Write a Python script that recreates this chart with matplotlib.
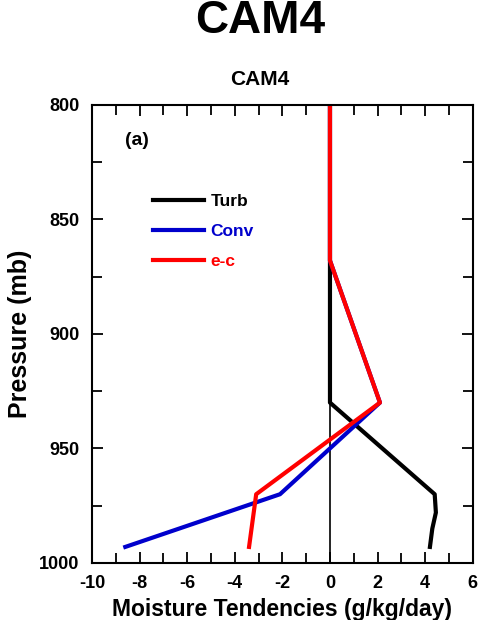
import matplotlib
matplotlib.use('Agg')
import matplotlib.pyplot as plt
from matplotlib.ticker import MultipleLocator

plt.rcParams['font.family'] = ['Liberation Sans', 'DejaVu Sans']
plt.rcParams['axes.unicode_minus'] = False

# profiles (tendency in g/kg/day vs pressure in mb)
turb_x = [0, 0, 4.4, 4.45, 4.3, 4.2]
turb_p = [800, 930, 970, 978, 985, 993]

conv_x = [0, 0, 2.1, 0, -2.1, -8.6]
conv_p = [800, 868, 930, 950, 970, 993]

ec_x = [0, 0, 2.1, -3.1, -3.4]
ec_p = [800, 868, 930, 970, 993]

series = [("Turb", turb_x, turb_p, "black"),
          ("Conv", conv_x, conv_p, "#0000cc"),
          ("e-c", ec_x, ec_p, "red")]

fig = plt.figure(figsize=(4.79, 6.20), dpi=100)
fig.text(0.543, 0.966, "CAM4", fontsize=33, fontweight='bold', ha='center', va='center')
fig.text(0.543, 0.871, "CAM4", fontsize=15, fontweight='bold', ha='center', va='center')
ax = fig.add_axes([0.192, 0.092, 0.795, 0.739])

ax.axvline(0, color='black', linewidth=1.2, zorder=1)
for name, xs, ps, col in series:
    ax.plot(xs, ps, color=col, linewidth=3, label=name, zorder=2)

ax.set_xlim(-10, 6)
ax.set_ylim(1000, 800)
ax.xaxis.set_major_locator(MultipleLocator(2))
ax.xaxis.set_minor_locator(MultipleLocator(1))
ax.yaxis.set_major_locator(MultipleLocator(50))
ax.yaxis.set_minor_locator(MultipleLocator(25))
ax.tick_params(which='both', direction='in', top=True, right=True, width=1.3)
ax.tick_params(which='major', length=8, labelsize=13, pad=9)
ax.tick_params(which='minor', length=7)
for lab in ax.get_xticklabels() + ax.get_yticklabels():
    lab.set_fontweight('bold')
for sp in ax.spines.values():
    sp.set_linewidth(1.5)

ax.set_xlabel("Moisture Tendencies (g/kg/day)", fontsize=16.5, fontweight='bold', labelpad=4)
ax.set_ylabel("Pressure (mb)", fontsize=18, fontweight='bold', labelpad=5)
ax.text(0.088, 0.921, "(a)", transform=ax.transAxes, fontsize=14, fontweight='bold', va='center')

leg = ax.legend(loc='upper left', bbox_to_anchor=(0.12, 0.84), frameon=False,
                handlelength=2.9, handletextpad=0.4, labelspacing=0.85,
                prop={'size': 12.5, 'weight': 'bold'})
for txt, (_, _, _, col) in zip(leg.get_texts(), series):
    txt.set_color(col)

fig.savefig("out.png", dpi=100)
